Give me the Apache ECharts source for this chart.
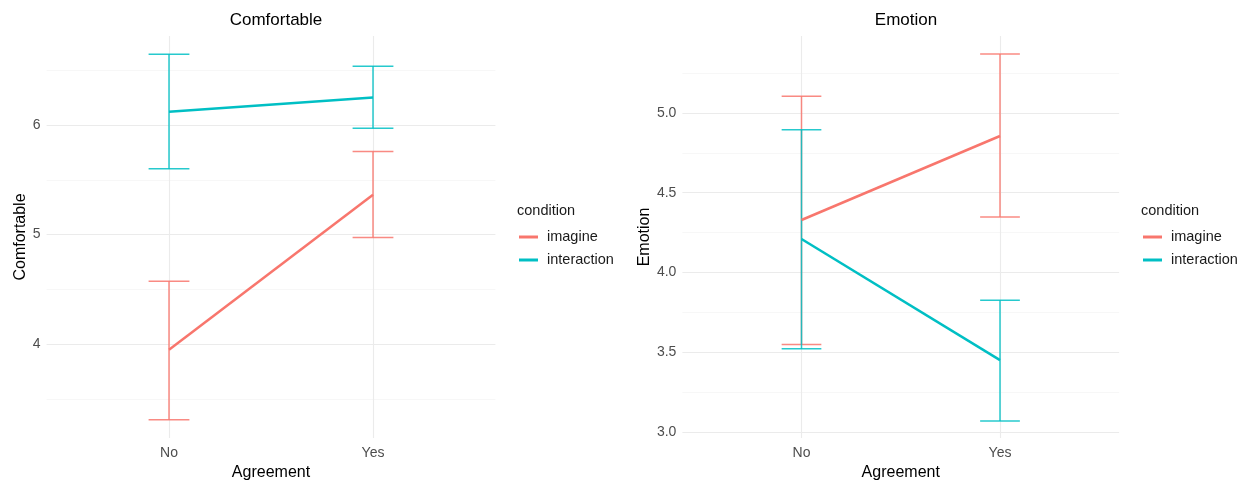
<!DOCTYPE html>
<html>
<head>
<meta charset="utf-8">
<script src="https://cdn.jsdelivr.net/npm/echarts@6/dist/echarts.min.js"></script>
<style>
html,body{margin:0;padding:0;background:#fff;}
#chart{width:1247px;height:480px;}
</style>
</head>
<body>
<div id="chart"></div>
<script>
// ---- data ----
const categories = ['No', 'Yes'];
const conditions = ['imagine', 'interaction'];

const comfImagineMean = [3.948, 5.364];
const comfImagineLow  = [3.309, 4.973];
const comfImagineHigh = [4.573, 5.757];
const comfInterMean   = [6.121, 6.250];
const comfInterLow    = [5.600, 5.970];
const comfInterHigh   = [6.645, 6.536];

const emoImagineMean = [4.329, 4.856];
const emoImagineLow  = [3.548, 4.348];
const emoImagineHigh = [5.105, 5.370];
const emoInterMean   = [4.210, 3.450];
const emoInterLow    = [3.521, 3.069];
const emoInterHigh   = [4.895, 3.826];

const comfTicks = [4, 5, 6];
const comfMinorTicks = [3.5, 4.5, 5.5, 6.5];
const emoTicks = [3.0, 3.5, 4.0, 4.5, 5.0];
const emoMinorTicks = [3.25, 3.75, 4.25, 4.75, 5.25];

const colors = {imagine: '#F8766D', interaction: '#00BFC4'};
const FONT = '"Liberation Sans", Arial, Helvetica, sans-serif';

// ---- helpers ----
const xPos = categories.map((c, i) => i + 1);

function lineData(means) { return xPos.map((x, i) => [x, means[i]]); }
function barData(lows, highs) { return xPos.map((x, i) => [x, lows[i], highs[i]]); }

function errorSeries(name, lows, highs, gi) {
  return {
    type: 'custom', name: name, xAxisIndex: gi, yAxisIndex: gi, z: 3,
    silent: true,
    itemStyle: {color: colors[name]},
    encode: {x: 0, y: [1, 2]},
    data: barData(lows, highs),
    renderItem: function (params, api) {
      const x = api.value(0), lo = api.value(1), hi = api.value(2);
      const pLo = api.coord([x, lo]), pHi = api.coord([x, hi]);
      const cl = api.coord([x - 0.1, lo]), cr = api.coord([x + 0.1, lo]);
      const style = {stroke: colors[name], lineWidth: 1.5, opacity: 0.85};
      return {
        type: 'group',
        children: [
          {type: 'line', shape: {x1: pLo[0], y1: pLo[1], x2: pHi[0], y2: pHi[1]}, style: style},
          {type: 'line', shape: {x1: cl[0], y1: pLo[1], x2: cr[0], y2: pLo[1]}, style: style},
          {type: 'line', shape: {x1: cl[0], y1: pHi[1], x2: cr[0], y2: pHi[1]}, style: style}
        ]
      };
    }
  };
}

function meanSeries(name, means, gi) {
  return {
    type: 'line', name: name, xAxisIndex: gi, yAxisIndex: gi, z: 4,
    data: lineData(means), symbol: 'none', silent: true,
    itemStyle: {color: colors[name]},
    lineStyle: {color: colors[name], width: 2.5}
  };
}

function gridSeries(gi, ticks, minor) {
  const major = {color: '#ebebeb', width: 1.1, type: 'solid'};
  const minr = {color: '#f4f4f4', width: 0.7, type: 'solid'};
  return {
    type: 'line', xAxisIndex: gi, yAxisIndex: gi, z: 0, data: [], silent: true,
    markLine: {
      z: 0, zlevel: 0,
      silent: true, symbol: 'none', label: {show: false}, animation: false,
      data: [
        ...minor.map(v => ({yAxis: v, lineStyle: minr})),
        ...ticks.map(v => ({yAxis: v, lineStyle: major})),
        ...xPos.map(v => ({xAxis: v, lineStyle: major}))
      ]
    }
  };
}

function xAxisOpt(gi) {
  return {
    type: 'value', gridIndex: gi, min: 0.4, max: 2.6,
    axisLine: {show: false}, axisTick: {show: false}, splitLine: {show: false},
    axisLabel: {customValues: xPos, formatter: v => categories[Math.round(v) - 1] || '',
      color: '#4d4d4d', fontSize: 14, fontFamily: FONT, margin: 8},
    name: 'Agreement', nameLocation: 'middle', nameGap: 22,
    nameTextStyle: {color: '#000', fontSize: 16, fontFamily: FONT}
  };
}

function yAxisOpt(gi, min, max, ticks, name, gap, digits) {
  return {
    type: 'value', gridIndex: gi, min: min, max: max,
    axisLine: {show: false}, axisTick: {show: false}, splitLine: {show: false},
    axisLabel: {customValues: ticks, formatter: v => Number(v).toFixed(digits),
      color: '#4d4d4d', fontSize: 14, fontFamily: FONT, margin: 6},
    name: name, nameLocation: 'middle', nameGap: gap, nameRotate: 90,
    nameTextStyle: {color: '#000', fontSize: 16, fontFamily: FONT}
  };
}

const legendCommon = {
  orient: 'vertical', top: 229, itemWidth: 19, itemHeight: 3, icon: 'rect',
  itemGap: 7, padding: 0, selectedMode: false,
  textStyle: {fontSize: 14.5, lineHeight: 16, color: '#1a1a1a', fontFamily: FONT, padding: [0, 0, 0, 4]},
  data: conditions
};

const option = {
  animation: false,
  backgroundColor: '#fff',
  title: [
    {text: 'Comfortable', left: 271, top: 7, textAlign: 'center',
      textStyle: {fontSize: 17, fontWeight: 'normal', color: '#000', fontFamily: FONT}},
    {text: 'Emotion', left: 901, top: 7, textAlign: 'center',
      textStyle: {fontSize: 17, fontWeight: 'normal', color: '#000', fontFamily: FONT}},
    {text: 'condition', left: 517, top: 203, padding: 0,
      textStyle: {fontSize: 14.5, fontWeight: 'normal', color: '#1a1a1a', fontFamily: FONT}},
    {text: 'condition', left: 1141, top: 203, padding: 0,
      textStyle: {fontSize: 14.5, fontWeight: 'normal', color: '#1a1a1a', fontFamily: FONT}}
  ],
  legend: [
    Object.assign({left: 519}, legendCommon),
    Object.assign({left: 1143}, legendCommon)
  ],
  grid: [
    {left: 46.6, top: 36, width: 448.8, height: 402, outerBoundsMode: 'none', containLabel: false},
    {left: 682.4, top: 36, width: 436.7, height: 402, outerBoundsMode: 'none', containLabel: false}
  ],
  xAxis: [xAxisOpt(0), xAxisOpt(1)],
  yAxis: [
    yAxisOpt(0, 3.143, 6.812, comfTicks, 'Comfortable', 18, 0),
    yAxisOpt(1, 2.962, 5.483, emoTicks, 'Emotion', 28, 1)
  ],
  series: [
    gridSeries(0, comfTicks, comfMinorTicks),
    gridSeries(1, emoTicks, emoMinorTicks),
    errorSeries('imagine', comfImagineLow, comfImagineHigh, 0),
    errorSeries('interaction', comfInterLow, comfInterHigh, 0),
    meanSeries('imagine', comfImagineMean, 0),
    meanSeries('interaction', comfInterMean, 0),
    errorSeries('imagine', emoImagineLow, emoImagineHigh, 1),
    errorSeries('interaction', emoInterLow, emoInterHigh, 1),
    meanSeries('imagine', emoImagineMean, 1),
    meanSeries('interaction', emoInterMean, 1)
  ]
};

const chart = echarts.init(document.getElementById('chart'), null, {renderer: 'canvas'});
chart.setOption(option);
</script>
</body>
</html>
